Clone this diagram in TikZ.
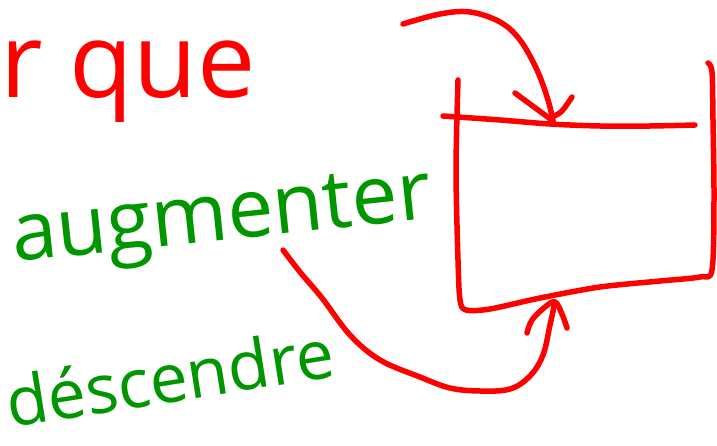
\documentclass[tikz,border=0pt]{standalone}
\usepackage{fontspec}
\setmainfont{Open Sans}
\definecolor{penred}{RGB}{255,0,0}
\definecolor{pengreen}{RGB}{0,150,0}
\tikzset{
  redpen/.style={draw=penred,line width=5.5pt,line cap=round,line join=round},
  redword/.style={text=penred,inner sep=0pt,anchor=base west},
  greenword/.style={text=pengreen,inner sep=0pt,anchor=base west},
}
\begin{document}
\begin{tikzpicture}[x=1pt,y=-1pt]
\useasboundingbox (0,0) rectangle (717,446);
% words
\node[redword,font=\fontsize{104}{110}\selectfont] (rque) at (0,98) {r que};
\node[greenword,font=\fontsize{82}{90}\selectfont,rotate=6] (aug) at (14,262) {augmenter};
\node[greenword,font=\fontsize{68}{76}\selectfont,rotate=9] (desc) at (10,428) {déscendre};
% box
\coordinate (bl1) at (458,80);
\coordinate (tl) at (443,116);
\coordinate (tr) at (695,125);
\coordinate (rtop) at (708,63);
\draw[redpen] plot[smooth,tension=0.5] coordinates {(bl1) (456,170) (458,260) (460,300) (466,310) (490,309) (540,298) (600,287) (660,281) (700,277) (712,270) (714,200) (713,120) (712,72) (rtop)};
\draw[redpen] plot[smooth,tension=0.5] coordinates {(tl) (500,120) (550,124) (600,126) (650,126) (tr)};
% top arrow
\coordinate (a1s) at (403,24);
\coordinate (a1e) at (553,121);
\draw[redpen] plot[smooth,tension=0.6] coordinates {(a1s) (440,14) (470,12) (500,22) (520,40) (537,70) (548,100) (a1e)};
\draw[redpen] (515,93) -- (a1e);
\draw[redpen] plot[smooth,tension=0.6] coordinates {(551,117) (561,112) (572,97)};
% bottom arrow
\coordinate (a2s) at (283,250);
\coordinate (a2e) at (555,302);
\draw[redpen] plot[smooth,tension=0.6] coordinates {(a2s) (300,272) (322,298) (350,335) (380,360) (420,377) (450,388) (480,391) (510,389) (530,376) (543,355) (550,325) (a2e)};
\draw[redpen] plot[smooth,tension=0.6] coordinates {(527,333) (532,320) (545,307) (a2e) (562,314) (567,328)};
\end{tikzpicture}
\end{document}
